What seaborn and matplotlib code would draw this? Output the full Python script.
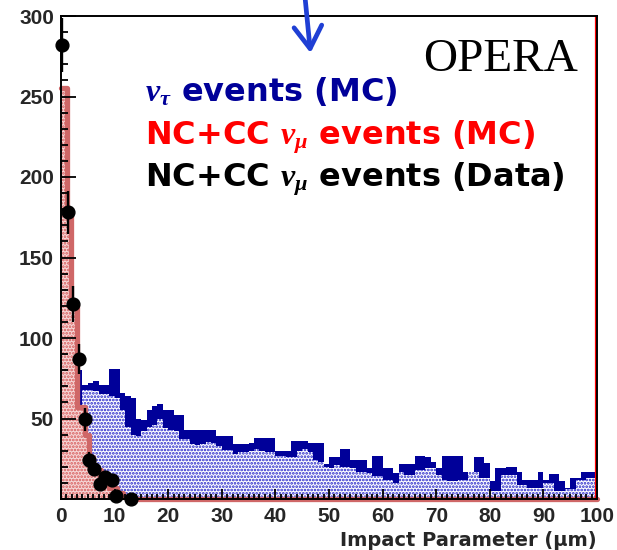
import numpy as np
import pandas as pd
import matplotlib
matplotlib.use("Agg")
import matplotlib.pyplot as plt
from matplotlib.ticker import MultipleLocator
import seaborn as sns

# ---- data -----------------------------------------------------------------
# nu_tau MC, 1 um bins from 0 to 100: outer envelope (solid) and inner (dotted)
tau_edges = list(range(0, 101))
tau_outer = [77, 77, 77, 80, 71, 72, 73, 71, 71, 81,
             81, 66, 64, 63, 50, 49, 55, 58, 59, 55,
             55, 52, 52, 43, 43, 43, 43, 43, 43, 39,
             39, 39, 34, 34, 34, 35, 38, 38, 38, 38,
             30, 30, 30, 36, 36, 36, 35, 34.5, 34.5, 22,
             26, 26, 31, 31, 24, 24, 24, 19, 27, 27,
             19, 19, 16, 22, 22, 22, 27, 27, 26, 23,
             19, 27, 27, 27, 27, 17, 17, 26, 26, 22.5,
             11, 19, 19, 20, 20, 17, 12, 12, 12, 17,
             12, 15.5, 15.5, 11, 7, 13, 13, 17, 17, 17]
tau_inner = [0, 0, 0, 0, 68, 68, 67, 65.5, 65, 64,
             63, 55, 45, 40, 39, 42, 45, 46, 50, 44,
             43, 42, 37, 37, 34, 33.5, 34, 35.5, 35, 33,
             30.5, 30.5, 28, 29, 29, 30, 31, 30, 29, 29,
             27, 27, 26, 26, 30, 31, 29, 24, 23, 20,
             19, 21, 20, 20, 19, 17, 17, 16, 14, 14,
             12, 12, 10, 17, 15, 15, 18, 18, 19.5, 19.5,
             15, 12, 11, 11, 12, 12, 17, 17, 13, 13,
             5, 5, 15, 15, 15, 9, 9, 7, 7, 7,
             10, 10, 5, 5, 6, 6, 12, 12, 13, 13]

# NC+CC nu_mu MC
numu_edges = [0, 1.1, 1.9, 2.9, 4.4, 5.2, 6.0, 7.4, 9.0, 10.4, 11.6, 12.6, 100]
numu_mc = [255, 176, 120, 57, 40, 26, 18, 12, 7, 3.5, 1, 0]

# NC+CC nu_mu data
data_x = [0.12, 1.24, 2.18, 3.45, 4.4, 5.3, 6.1, 7.2, 8.25, 9.5, 10.3, 13.06]
data_y = [282, 178, 121, 87, 49.5, 24, 18.4, 9.3, 13.8, 11.5, 2, 0]
data_err = [16.8, 13.3, 11, 9.3, 7, 4.9, 4.3, 3, 3.7, 3.4, 1.4, 0]

x_ticks = [0, 10, 20, 30, 40, 50, 60, 70, 80, 90, 100]
y_ticks = [50, 100, 150, 200, 250, 300]

# ---- style ----------------------------------------------------------------
NAVY = "#000099"
DOT_BLUE = "#2323c8"
RED_LINE = "#cf6767"
RED_FILL = "#f6d8d8"
RED_DOT = "#d65a5a"

sns.set_style("ticks")
plt.rcParams["font.family"] = ["Liberation Sans", "DejaVu Sans"]
plt.rcParams["font.weight"] = "bold"
plt.rcParams["mathtext.fontset"] = "custom"
plt.rcParams["mathtext.it"] = "Liberation Serif:italic"
plt.rcParams["mathtext.rm"] = "Liberation Serif"
plt.rcParams["mathtext.bf"] = "Liberation Serif:bold"
plt.rcParams["hatch.linewidth"] = 1.3

fig = plt.figure(figsize=(6.17, 5.5), dpi=100)
ax = fig.add_axes([61 / 617, 51 / 550, 536 / 617, 483 / 550])


def hist_frame(edges, values):
    e = np.asarray(edges, dtype=float)
    return pd.DataFrame({"x": (e[:-1] + e[1:]) / 2, "w": np.asarray(values, dtype=float)})


def step_hist(edges, values, **kws):
    sns.histplot(data=hist_frame(edges, values), x="x", weights="w",
                 bins=list(edges), element="step", ax=ax, **kws)


def hatched_hist(edges, values, face, dot, hatch, z):
    plt.rcParams["hatch.color"] = dot
    step_hist(edges, values, fill=True, color=face, alpha=1, linewidth=0)
    coll = ax.collections[-1]
    coll.set_facecolor(face)
    coll.set_edgecolor(dot)
    coll.set_linewidth(0)
    if hasattr(coll, "set_hatchcolor"):
        coll.set_hatchcolor(dot)
    coll.set_hatch(hatch)
    coll.set_zorder(z)


# nu_tau MC: solid envelope, dotted interior
step_hist(tau_edges, tau_outer, fill=True, color=NAVY, alpha=1, linewidth=0)
ax.collections[-1].set_facecolor(NAVY)
ax.collections[-1].set_zorder(1)
hatched_hist(tau_edges, tau_inner, "white", DOT_BLUE, ".....", 1.1)

# nu_mu MC: dotted fill and thick outline
hatched_hist(numu_edges, numu_mc, RED_FILL, RED_DOT, ".....", 1.2)
step_hist(numu_edges, numu_mc, fill=False, color=RED_LINE, linewidth=3.8)
outline = ax.lines[-1]
outline.set_clip_on(False)
outline.set_zorder(2.2)

ax.axvline(99.75, color="#ff0000", lw=1.6, zorder=2.3)

# nu_mu data
ax.errorbar(data_x, data_y, yerr=data_err, fmt="o", color="black", ms=9.2,
            elinewidth=1.7, capsize=0, zorder=5, clip_on=False)

# ---- axes -----------------------------------------------------------------
ax.set_xlim(0, 100)
ax.set_ylim(0, 300)
ax.set_xticks(x_ticks)
ax.set_yticks(y_ticks)
ax.xaxis.set_minor_locator(MultipleLocator(1))
ax.yaxis.set_minor_locator(MultipleLocator(10))
ax.tick_params(axis="both", which="both", direction="in", top=False, right=False,
               width=1.3, color="black", labelsize=15)
ax.tick_params(axis="x", which="major", length=7, pad=6)
ax.tick_params(axis="x", which="minor", length=3.5)
ax.tick_params(axis="y", which="major", length=11, pad=5)
ax.tick_params(axis="y", which="minor", length=5)
ax.set_axisbelow(False)
for s in ax.spines.values():
    s.set_color("black")
    s.set_linewidth(1.4)
    s.set_visible(True)
ax.set_ylabel("")
ax.set_xlabel("Impact Parameter (\u03bcm)", loc="right", fontsize=14,
              family="DejaVu Sans", fontweight="bold", labelpad=3)

# ---- annotations ----------------------------------------------------------
W, H = 617, 550
fig.text(145 / W, 1 - 101 / H, r"$\nu_{\tau}$ events (MC)", fontsize=23,
         family="DejaVu Sans", fontweight="bold", color=NAVY, va="baseline")
fig.text(145 / W, 1 - 145 / H, r"NC+CC $\nu_{\mu}$ events (MC)", fontsize=23,
         family="DejaVu Sans", fontweight="bold", color="#ff0000", va="baseline")
fig.text(145 / W, 1 - 186 / H, r"NC+CC $\nu_{\mu}$ events (Data)", fontsize=23,
         family="DejaVu Sans", fontweight="bold", color="black", va="baseline")
fig.text(423 / W, 1 - 71 / H, "OPERA", fontsize=34, family="Liberation Serif",
         fontweight="normal", color="black", va="baseline")

ax.annotate("", xy=(310.5 / W, 1 - 53 / H), xytext=(305 / W, 1 + 3 / H),
            xycoords="figure fraction", textcoords="figure fraction",
            arrowprops=dict(arrowstyle="->,head_length=0.8,head_width=0.5",
                            color="#1f3fd4", lw=3.4, shrinkA=0, shrinkB=0,
                            mutation_scale=20),
            annotation_clip=False)

fig.savefig("out.png", dpi=100)
